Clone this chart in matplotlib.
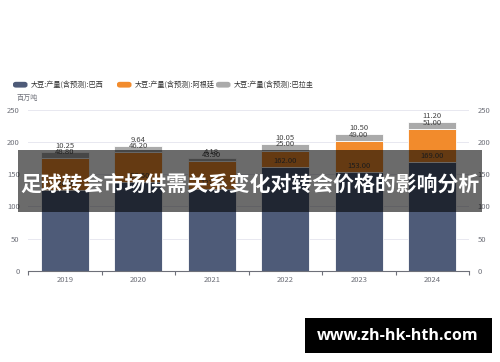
import numpy as np
import matplotlib.pyplot as plt
from matplotlib.patches import Rectangle, FancyBboxPatch

plt.rcParams['font.family'] = ['Noto Sans CJK SC', 'DejaVu Sans']

years = ['2019', '2020', '2021', '2022', '2023', '2024']
brazil = [126.00, 138.50, 127.00, 162.00, 153.00, 169.00]
argentina = [48.80, 46.20, 43.90, 25.00, 49.00, 51.00]
paraguay = [10.25, 9.64, 4.18, 10.05, 10.50, 11.20]
series_names = ['大豆:产量(含预测):巴西', '大豆:产量(含预测):阿根廷', '大豆:产量(含预测):巴拉圭']
colors = ['#4e5b78', '#f28b2c', '#aaaaaa']
title = '足球转会市场供需关系变化对转会价格的影响分析'

fig = plt.figure(figsize=(5, 3.62), dpi=100)
ax = fig.add_axes([0.056, 0.252, 0.882, 0.444])

x = np.arange(len(years))
w = 0.65
bottom = np.zeros(len(years))
for vals, c in zip([brazil, argentina, paraguay], colors):
    vals = np.array(vals)
    ax.bar(x, vals, w, bottom=bottom, color=c, edgecolor='white', linewidth=0.6, zorder=2)
    tops = bottom + vals
    for xi, t, v in zip(x, tops, vals):
        ax.annotate(f'{v:.2f}', (xi, t), xytext=(0, 1.5), textcoords='offset points',
                    ha='center', va='bottom', fontsize=5.5, color='#444444', zorder=3)
    bottom = tops

ax.set_xlim(-0.5, len(years) - 0.5)
ax.set_ylim(0, 250)
ax.set_yticks(range(0, 251, 50))
ax.grid(axis='y', color='#e8e8f0', linewidth=0.7, zorder=0)
for s in ['left', 'right', 'top']:
    ax.spines[s].set_visible(False)
ax.spines['bottom'].set_color('#6e7079')
ax.spines['bottom'].set_linewidth(0.8)
ax.set_xticks(x)
ax.set_xticklabels(years)
ax.set_xticks(np.arange(-0.5, len(years)), minor=True)
ax.tick_params(axis='x', which='major', length=0, labelsize=5.5, labelcolor='#6e7079', pad=4)
ax.tick_params(axis='x', which='minor', length=3, color='#6e7079', width=0.8)
ax.tick_params(axis='y', length=0, labelsize=5.5, labelcolor='#6e7079', pad=6,
               left=True, right=True, labelleft=True, labelright=True)

# legend
lx = [0.026, 0.234, 0.432]
for xpos, name, c in zip(lx, series_names, colors):
    fig.add_artist(FancyBboxPatch((xpos, 0.758), 0.029, 0.016, boxstyle='round,pad=0,rounding_size=0.006',
                                  transform=fig.transFigure, color=c, linewidth=0))
    fig.text(xpos + 0.036, 0.766, name, fontsize=5.1, color='#333333', va='center')
fig.text(0.034, 0.729, '百万吨', fontsize=5.1, color='#6e7079', va='center')

# dark overlay band with title
fig.add_artist(Rectangle((0.036, 0.414), 0.928, 0.172, transform=fig.transFigure,
                         facecolor='black', alpha=0.58, linewidth=0, zorder=5))
fig.text(0.5, 0.49, title, fontsize=15, fontweight='bold', color='white',
         ha='center', va='center', zorder=6)

# watermark
fig.add_artist(Rectangle((0.61, 0.025), 0.374, 0.097, transform=fig.transFigure,
                         facecolor='black', linewidth=0, zorder=5))
fig.text(0.795, 0.073, 'www.zh-hk-hth.com', fontsize=11.6, fontweight='bold', color='white',
         ha='center', va='center', family=['Open Sans', 'DejaVu Sans'], zorder=6)

fig.savefig('out.png', dpi=100)
